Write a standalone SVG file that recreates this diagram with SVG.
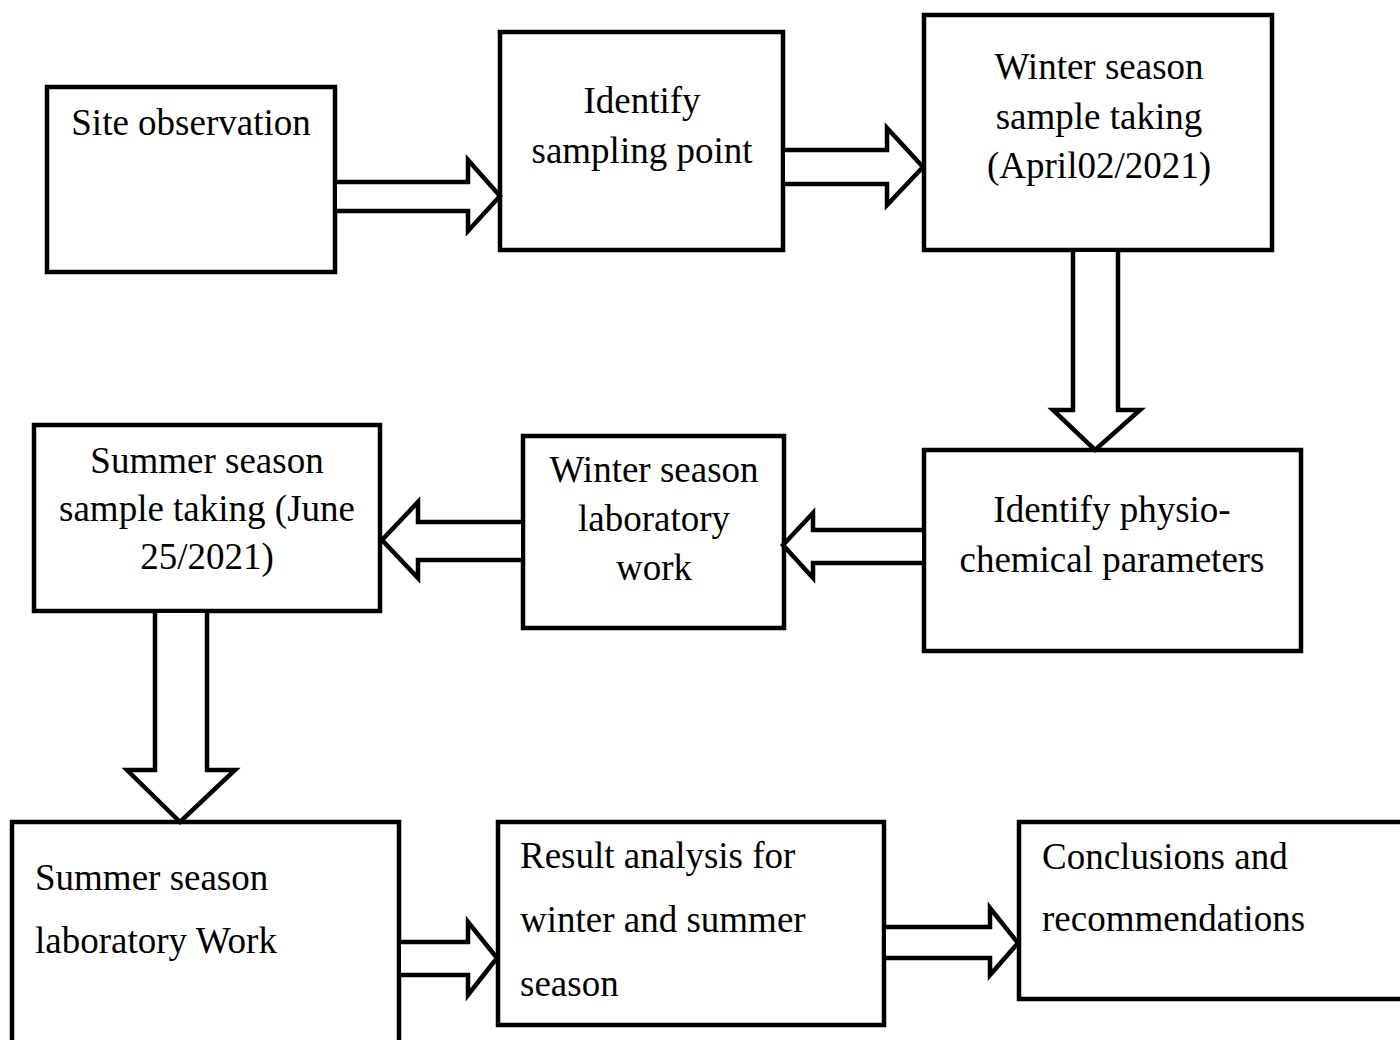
<svg xmlns="http://www.w3.org/2000/svg" width="1400" height="1040" viewBox="0 0 1400 1040">
<style>
.box{fill:#fff;stroke:#000;stroke-width:4.5;stroke-linejoin:miter}
.arr{fill:#fff;stroke:#000;stroke-width:4.5;stroke-linejoin:miter}
.c{text-anchor:middle}
</style>
<rect width="1400" height="1040" fill="#fff"/>
<g font-family="Liberation Serif, Tinos, Times New Roman, DejaVu Serif, serif" font-size="37" fill="#000">
<g id="n1"><rect class="box" x="47" y="87" width="288" height="185"/><text class="c" x="191" y="135">Site observation</text></g>
<g id="n2"><rect class="box" x="500" y="32" width="283" height="218"/><text class="c" x="642" y="113">Identify</text><text class="c" x="642" y="163">sampling point</text></g>
<g id="n3"><rect class="box" x="924" y="15" width="348" height="235"/><text class="c" x="1099" y="79">Winter season</text><text class="c" x="1099" y="129">sample taking</text><text class="c" x="1099" y="178">(April02/2021)</text></g>
<g id="n4"><rect class="box" x="924" y="450" width="377" height="201"/><text class="c" x="1112" y="522">Identify physio-</text><text class="c" x="1112" y="572">chemical parameters</text></g>
<g id="n5"><rect class="box" x="523" y="436" width="261" height="192"/><text class="c" x="654" y="482">Winter season</text><text class="c" x="654" y="531">laboratory</text><text class="c" x="654" y="580">work</text></g>
<g id="n6"><rect class="box" x="34" y="425" width="346" height="186"/><text class="c" x="207" y="473">Summer season</text><text class="c" x="207" y="521">sample taking (June</text><text class="c" x="207" y="569">25/2021)</text></g>
<g id="n7"><rect class="box" x="12" y="822" width="387" height="240"/><text x="35" y="890">Summer season</text><text x="35" y="953">laboratory Work</text></g>
<g id="n8"><rect class="box" x="498" y="822" width="386" height="203"/><text x="520" y="868">Result analysis for</text><text x="520" y="932">winter and summer</text><text x="520" y="996">season</text></g>
<g id="n9"><rect class="box" x="1019" y="822" width="420" height="177"/><text x="1042" y="869">Conclusions and</text><text x="1042" y="931">recommendations</text></g>
</g>
<g id="connectors">
<polyline class="arr" points="337,182 468,182 468,160 500,196 468,231 468,211 337,211"/>
<polyline class="arr" points="785,150 887,150 887,128 923,167 887,205 887,184 785,184"/>
<polyline class="arr" points="1073,252 1073,410 1053,410 1095,450 1140,410 1118,410 1118,252"/>
<polyline class="arr" points="521,522 418,522 418,502 382,540 418,578 418,560 521,560"/>
<polyline class="arr" points="922,530 813,530 813,513 783,545 813,578 813,563 922,563"/>
<polyline class="arr" points="155,613 155,770 127,770 180,822 235,770 207,770 207,613"/>
<polyline class="arr" points="401,942 468,942 468,922 497,958 468,995 468,975 401,975"/>
<polyline class="arr" points="886,927 990,927 990,908 1018,943 990,975 990,958 886,958"/>
</g>
</svg>
